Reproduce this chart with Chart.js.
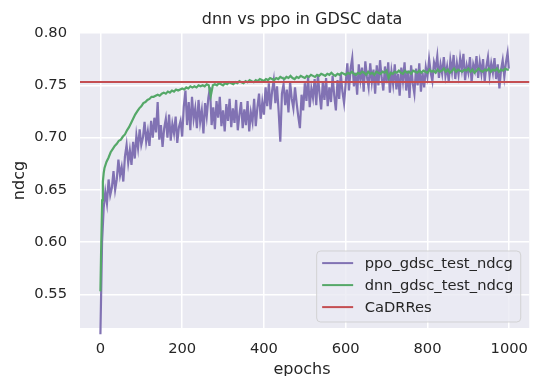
<!DOCTYPE html>
<html>
<head>
<meta charset="utf-8">
<script src="https://cdn.jsdelivr.net/npm/chart.js@4"></script>
<style>
  html, body { margin: 0; padding: 0; background: #fff; overflow: hidden; width: 534px; height: 376px; }
  canvas { display: block; }
</style>
</head>
<body>
<canvas id="grafica" width="540" height="376"></canvas>
<script>
// ppo_gdsc_test_ndcg, read every 4 epochs (0..996) plus last epoch 999
const ppoNdcg = [
  0.512, 0.600, 0.633, 0.648, 0.637, 0.660, 0.645, 0.652, 0.668, 0.650,
  0.660, 0.679, 0.664, 0.672, 0.658, 0.682, 0.693, 0.676, 0.688, 0.674,
  0.696, 0.680, 0.702, 0.690, 0.708, 0.693, 0.700, 0.715, 0.696, 0.706,
  0.692, 0.716, 0.700, 0.719, 0.705, 0.734, 0.698, 0.712, 0.691, 0.709,
  0.718, 0.700, 0.722, 0.697, 0.713, 0.704, 0.720, 0.695, 0.710, 0.716,
  0.701, 0.730, 0.745, 0.712, 0.734, 0.707, 0.739, 0.718, 0.728, 0.709,
  0.736, 0.715, 0.726, 0.704, 0.733, 0.720, 0.738, 0.748, 0.712, 0.729,
  0.708, 0.735, 0.719, 0.739, 0.711, 0.726, 0.706, 0.732, 0.716, 0.737,
  0.710, 0.728, 0.714, 0.736, 0.707, 0.722, 0.734, 0.709, 0.727, 0.712,
  0.735, 0.706, 0.724, 0.715, 0.737, 0.711, 0.729, 0.742, 0.718, 0.734,
  0.722, 0.748, 0.730, 0.752, 0.727, 0.745, 0.755, 0.733, 0.749, 0.725,
  0.696, 0.742, 0.751, 0.731, 0.746, 0.724, 0.753, 0.737, 0.728, 0.748,
  0.733, 0.720, 0.709, 0.741, 0.726, 0.752, 0.735, 0.758, 0.729, 0.747,
  0.738, 0.756, 0.731, 0.760, 0.742, 0.727, 0.753, 0.736, 0.757, 0.730,
  0.748, 0.734, 0.759, 0.740, 0.726, 0.755, 0.737, 0.761, 0.744, 0.733,
  0.752, 0.771, 0.745, 0.766, 0.776, 0.749, 0.762, 0.741, 0.770, 0.755,
  0.767, 0.744, 0.773, 0.758, 0.748, 0.771, 0.753, 0.765, 0.742, 0.769,
  0.750, 0.774, 0.757, 0.745, 0.768, 0.752, 0.772, 0.743, 0.763, 0.751,
  0.770, 0.746, 0.761, 0.740, 0.767, 0.754, 0.772, 0.745, 0.764, 0.738,
  0.769, 0.752, 0.742, 0.766, 0.750, 0.771, 0.744, 0.762, 0.748, 0.767,
  0.758, 0.775, 0.762, 0.754, 0.772, 0.766, 0.778, 0.757, 0.770, 0.761,
  0.777, 0.759, 0.768, 0.754, 0.774, 0.763, 0.779, 0.756, 0.771, 0.760,
  0.776, 0.765, 0.780, 0.755, 0.769, 0.762, 0.777, 0.753, 0.770, 0.764,
  0.778, 0.757, 0.772, 0.761, 0.775, 0.754, 0.768, 0.777, 0.759, 0.771,
  0.762, 0.776, 0.756, 0.770, 0.747, 0.765, 0.774, 0.758, 0.772, 0.781,
  0.766
];
const ppoEpochs = ppoNdcg.map((v, i) => Math.min(i * 4, 999));

// dnn_gdsc_test_ndcg
const dnnEpochs = [0, 2, 4, 6, 8, 10, 15, 20, 25, 30]
  .concat(Array.from({ length: 193 }, (v, i) => 35 + i * 5), [999]);
const dnnNdcg = [
  0.553, 0.598, 0.640, 0.658, 0.666, 0.671, 0.677, 0.681, 0.686, 0.689,
  0.692, 0.694, 0.697, 0.698, 0.701, 0.703, 0.707, 0.710, 0.714, 0.718,
  0.722, 0.725, 0.728, 0.730, 0.733, 0.734, 0.736, 0.737, 0.739, 0.739,
  0.740, 0.741, 0.740, 0.742, 0.743, 0.742, 0.744, 0.743, 0.745, 0.744,
  0.746, 0.745, 0.746, 0.747, 0.746, 0.748, 0.747, 0.749, 0.748, 0.749,
  0.748, 0.750, 0.749, 0.750, 0.749, 0.751, 0.750, 0.740, 0.750, 0.751,
  0.750, 0.752, 0.751, 0.750, 0.752, 0.751, 0.753, 0.752, 0.751, 0.753,
  0.752, 0.754, 0.753, 0.752, 0.754, 0.753, 0.755, 0.754, 0.753, 0.755,
  0.754, 0.756, 0.755, 0.754, 0.756, 0.755, 0.757, 0.756, 0.755, 0.757,
  0.756, 0.758, 0.757, 0.756, 0.758, 0.757, 0.759, 0.757, 0.756, 0.758,
  0.757, 0.759, 0.758, 0.757, 0.759, 0.758, 0.760, 0.759, 0.758, 0.760,
  0.759, 0.761, 0.760, 0.759, 0.761, 0.760, 0.762, 0.760, 0.759, 0.761,
  0.760, 0.762, 0.761, 0.760, 0.762, 0.761, 0.763, 0.761, 0.760, 0.762,
  0.761, 0.763, 0.762, 0.760, 0.763, 0.761, 0.762, 0.760, 0.763, 0.762,
  0.761, 0.763, 0.762, 0.764, 0.757, 0.762, 0.761, 0.763, 0.762, 0.764,
  0.762, 0.761, 0.764, 0.762, 0.763, 0.761, 0.764, 0.763, 0.762, 0.764,
  0.762, 0.764, 0.763, 0.762, 0.765, 0.763, 0.764, 0.762, 0.765, 0.763,
  0.764, 0.766, 0.763, 0.765, 0.762, 0.764, 0.766, 0.763, 0.765, 0.764,
  0.763, 0.765, 0.764, 0.766, 0.763, 0.765, 0.762, 0.764, 0.766, 0.764,
  0.763, 0.765, 0.764, 0.766, 0.763, 0.765, 0.764, 0.766, 0.763, 0.765,
  0.764, 0.766, 0.765,
  0.765
];

// CaDRRes baseline (horizontal line)
const cadrresNdcg = 0.7532;

const xLimits = [-49.95, 1048.95];
const yLimits = [0.518, 0.80];
const xTicks = [0, 200, 400, 600, 800, 1000];
const yTicks = [0.55, 0.60, 0.65, 0.70, 0.75, 0.80];

const tituloGrafica = "dnn vs ppo in GDSC data";
const tituloX = "epochs";
const tituloY = "ndcg";

const colores = { ppo: "#8172b3", dnn: "#55a868", cadrres: "#c44e52" };
const fuente = "DejaVu Sans";
const textoColor = "#262626";

const fondoYTextos = {
  id: "fondoYTextos",
  beforeDraw(chart) {
    const { ctx, chartArea: a } = chart;
    ctx.save();
    ctx.fillStyle = "#eaeaf2";
    ctx.fillRect(a.left, a.top, a.right - a.left, a.bottom - a.top);
    ctx.restore();
  },
  afterDraw(chart) {
    const { ctx, chartArea: a } = chart;
    ctx.save();
    ctx.fillStyle = textoColor;
    ctx.font = `16px "${fuente}"`;
    ctx.textAlign = "center";
    ctx.textBaseline = "alphabetic";
    ctx.fillText(tituloGrafica, 302, 24);
    ctx.fillText(tituloX, 302, 374);
    ctx.save();
    ctx.translate(23.5, (a.top + a.bottom) / 2);
    ctx.rotate(-Math.PI / 2);
    ctx.fillText(tituloY, 0, 0);
    ctx.restore();

    // leyenda abajo a la derecha
    ctx.font = `14.7px "${fuente}"`;
    const items = chart.data.datasets;
    const anchoTexto = Math.max(...items.map(d => ctx.measureText(d.label).width));
    const w = 6 + 31 + 11.5 + anchoTexto + 7;
    const h = 71;
    const x0 = a.right - 9 - w;
    const y0 = a.bottom - 6.5 - h;
    ctx.beginPath();
    ctx.roundRect(x0 + 0.5, y0 + 0.5, w, h, 4);
    ctx.fillStyle = "rgba(234,234,242,0.8)";
    ctx.fill();
    ctx.strokeStyle = "rgba(204,204,204,0.8)";
    ctx.lineWidth = 1;
    ctx.stroke();
    items.forEach((d, i) => {
      const yy = y0 + 12.6 + i * 22;
      ctx.beginPath();
      ctx.moveTo(x0 + 6, yy);
      ctx.lineTo(x0 + 37, yy);
      ctx.strokeStyle = d.borderColor;
      ctx.lineWidth = 2;
      ctx.stroke();
      ctx.fillStyle = textoColor;
      ctx.textAlign = "left";
      ctx.textBaseline = "middle";
      ctx.fillText(d.label, x0 + 48.5, yy + 1);
    });
    ctx.restore();
  }
};

const ctx = document.getElementById("grafica").getContext("2d");
new Chart(ctx, {
  type: "line",
  data: {
    datasets: [
      {
        label: "ppo_gdsc_test_ndcg",
        data: ppoEpochs.map((e, i) => ({ x: e, y: ppoNdcg[i] })),
        borderColor: colores.ppo,
        borderWidth: 2.2,
        order: 3
      },
      {
        label: "dnn_gdsc_test_ndcg",
        data: dnnEpochs.map((e, i) => ({ x: e, y: dnnNdcg[i] })),
        borderColor: colores.dnn,
        borderWidth: 2.2,
        order: 2
      },
      {
        label: "CaDRRes",
        data: xLimits.map(x => ({ x: x, y: cadrresNdcg })),
        borderColor: colores.cadrres,
        borderWidth: 2,
        order: 1
      }
    ]
  },
  options: {
    responsive: false,
    animation: false,
    clip: false,
    elements: { point: { radius: 0 }, line: { tension: 0, fill: false } },
    layout: { padding: { top: 33, right: 2, left: 0, bottom: 0 } },
    plugins: {
      legend: { display: false },
      title: { display: false },
      tooltip: { enabled: false }
    },
    scales: {
      x: {
        type: "linear",
        min: xLimits[0],
        max: xLimits[1],
        afterFit: s => { s.height = 48; },
        afterBuildTicks: s => { s.ticks = xTicks.map(v => ({ value: v })); },
        border: { display: false },
        grid: { color: "#ffffff", lineWidth: 1.5, drawTicks: false },
        ticks: {
          padding: 12,
          color: textoColor,
          font: { family: fuente, size: 14.7 },
          maxRotation: 0,
          callback: v => String(v)
        }
      },
      y: {
        type: "linear",
        min: yLimits[0],
        max: yLimits[1],
        afterFit: s => { s.width = 80; },
        afterBuildTicks: s => { s.ticks = yTicks.map(v => ({ value: v })); },
        border: { display: false },
        grid: { color: "#ffffff", lineWidth: 1.5, drawTicks: false },
        ticks: {
          padding: 13,
          color: textoColor,
          font: { family: fuente, size: 14.7 },
          callback: v => v.toFixed(2)
        }
      }
    }
  },
  plugins: [fondoYTextos]
});
</script>
</body>
</html>
